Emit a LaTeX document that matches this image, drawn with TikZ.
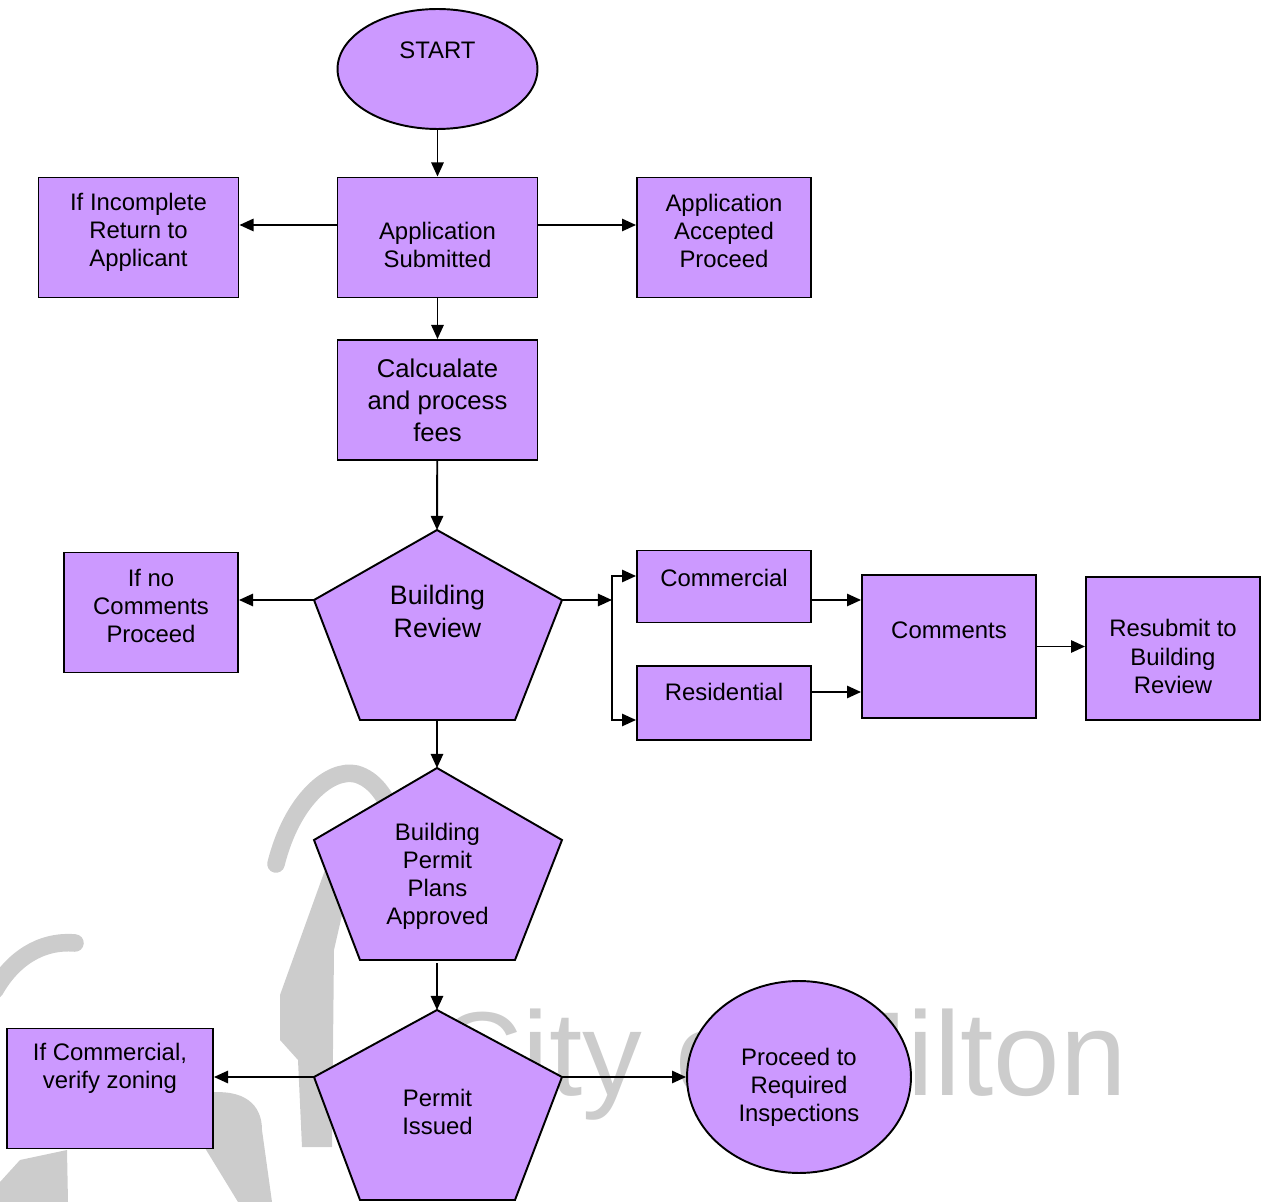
\documentclass[tikz,border=0pt]{standalone}
\usepackage{fontspec}
\setmainfont{Liberation Sans}
\usetikzlibrary{shapes.geometric,arrows.meta}

\definecolor{lav}{RGB}{204,153,255}
\definecolor{wmark}{RGB}{204,204,204}

\tikzset{
  box/.style={draw,fill=lav,line width=1.1pt,align=center,inner sep=2pt,font=\fontsize{13.6}{16}\selectfont},
  oval/.style={ellipse,draw,fill=lav,line width=1.1pt,align=center,inner sep=0pt,font=\fontsize{13.6}{16}\selectfont},
  pent/.style={draw,fill=lav,line width=1.1pt},
  arr/.style={-{Triangle[length=8pt,width=7pt]},line width=1.1pt},
  swoosh/.style={draw=wmark,line width=#1,line cap=round}
}

\begin{document}
\begin{tikzpicture}[x=0.02cm,y=-0.02cm]
    \useasboundingbox (0,0) rectangle (1272,1202);

    % watermark behind the chart
    \draw[swoosh=10pt] (276,864) .. controls (292,800) and (330,768) .. (356,774) .. controls (374,779) and (386,796) .. (394,818);
    \fill[wmark] (325,870) -- (350,880) -- (334,950) -- (332,1147) -- (302,1147) -- (298,1060) -- (280,1040) -- (280,995) -- cycle;
    \draw[swoosh=10pt] (75,943) .. controls (40,940) and (12,960) .. (-5,990);
    \fill[wmark] (205,1093) .. controls (245,1088) and (262,1105) .. (262,1130) -- (272,1202) -- (238,1202) -- (205,1148) -- cycle;
    \fill[wmark] (0,1182) -- (20,1160) -- (67,1150) -- (68,1202) -- (0,1202) -- cycle;
    \node[text=wmark,font=\fontsize{68}{68}\selectfont,anchor=base west,inner sep=0pt] (wm) at (436,1095) {City of Milton};

    % top part
    \node at (437.5,69) [oval,minimum width=4cm,minimum height=2.4cm,text depth=21pt] (start) {START};
    \node at (437.5,237.5) [box,minimum width=4cm,minimum height=2.4cm,text height=34pt] (submitted) {Application\\Submitted};
    \node at (138.5,237.5) [box,minimum width=4cm,minimum height=2.4cm,text depth=8.6pt] (incomplete) {If Incomplete\\Return to\\Applicant};
    \node at (724,237.5) [box,minimum width=3.48cm,minimum height=2.4cm,text depth=8pt] (accepted) {Application\\Accepted\\Proceed};
    \node at (437.5,400) [box,minimum width=4cm,minimum height=2.4cm,font=\fontsize{14.6}{18.2}\selectfont] (fees) {Calcualate\\and process\\fees};

    % pentagons
    \foreach \n/\y/\s/\h in {review/530/70/190,approved/768/72/192,issued/1010/67/190} {
        \draw[pent] (437,\y) -- (562,\y+\s) -- (515,\y+\h) -- (360,\y+\h) -- (314,\y+\s) -- cycle;
        \coordinate (\n-t) at (437,\y);
        \coordinate (\n-l) at (314,\y+\s);
        \coordinate (\n-r) at (562,\y+\s);
        \coordinate (\n-b) at (437,\y+\h);
    }
    \node at (437.5,611) [align=center,font=\fontsize{15.2}{18.8}\selectfont] (review) {Building\\Review};
    \node at (437.5,876) [align=center,font=\fontsize{13.6}{16}\selectfont] (approved) {Building\\Permit\\Plans\\Approved};
    \node at (437.5,1112) [align=center,font=\fontsize{13.6}{16}\selectfont] (issued) {Permit\\Issued};

    % review branches
    \node at (151,612.5) [box,minimum width=3.48cm,minimum height=2.4cm,text depth=8pt] (nocomments) {If no\\Comments\\Proceed};
    \node at (724,586.5) [box,minimum width=3.48cm,minimum height=1.44cm,text depth=10pt] (commercial) {Commercial};
    \node at (724,703) [box,minimum width=3.48cm,minimum height=1.48cm,text depth=12.5pt] (residential) {Residential};
    \node at (949,646.5) [box,minimum width=3.48cm,minimum height=2.86cm,text depth=19pt] (comments) {Comments};
    \node at (1173,648.5) [box,minimum width=3.48cm,minimum height=2.86cm,text height=51pt] (resubmit) {Resubmit to\\Building\\Review};
    \coordinate (split) at (612,600);

    % bottom part
    \node at (110,1088.5) [box,minimum width=4.12cm,minimum height=2.4cm,text depth=26pt] (zoning) {If Commercial,\\verify zoning};
    \node at (799,1077) [oval,minimum width=4.48cm,minimum height=3.84cm,text height=54pt] (inspect) {Proceed to\\Required\\Inspections};

    % connectors
    \draw[arr] (start) -- (submitted);
    \draw[arr] ([yshift=0.25cm]submitted.west) -- ([yshift=0.25cm]incomplete.east);
    \draw[arr] ([yshift=0.25cm]submitted.east) -- ([yshift=0.25cm]accepted.west);
    \draw[arr] (submitted) -- (fees);
    \draw[arr] (fees) -- (review-t);
    \draw[arr] (review-l) -- (review-l -| nocomments.east);
    \draw[arr] (review-r) -- (split);
    \draw[arr] (split) |- ([yshift=0.21cm]commercial.west);
    \draw[arr] (split) |- ([yshift=-0.34cm]residential.west);
    \draw[arr] ([yshift=-0.27cm]commercial.east) -- ([yshift=-0.27cm]commercial.east -| comments.west);
    \draw[arr] ([yshift=0.22cm]residential.east) -- ([yshift=0.22cm]residential.east -| comments.west);
    \draw[arr] (comments.east) -- (comments.east -| resubmit.west);
    \draw[arr] (review-b) -- (approved-t);
    \draw[arr] ([yshift=-0.06cm]approved-b) -- (issued-t);
    \draw[arr] (issued-l) -- (issued-l -| zoning.east);
    \draw[arr] (issued-r) -- (inspect.west);
\end{tikzpicture}
\end{document}
